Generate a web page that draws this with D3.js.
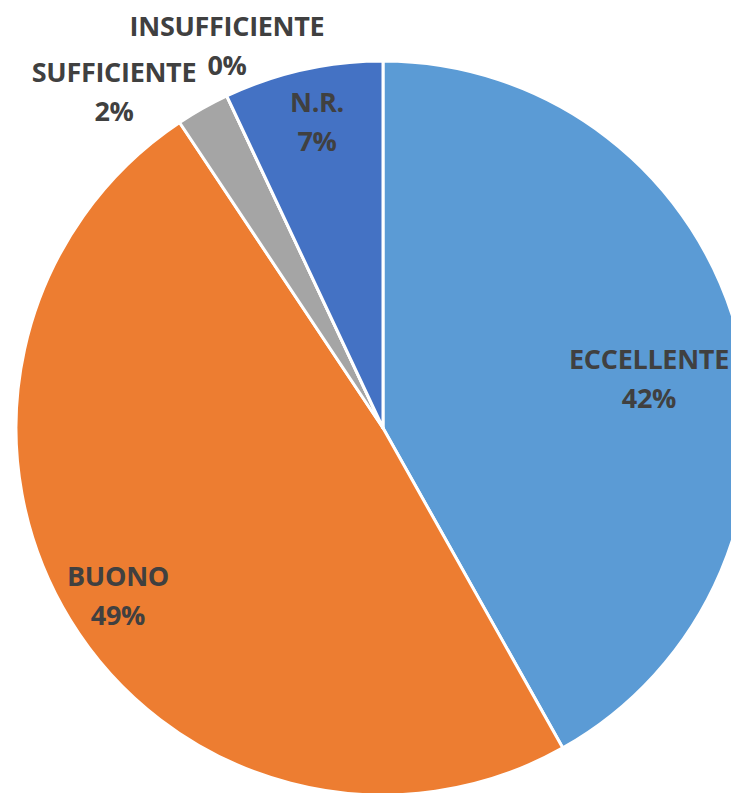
<!DOCTYPE html>
<html>
<head>
<meta charset="utf-8">
<script src="https://cdn.jsdelivr.net/npm/d3@7"></script>
<style>
  html, body { margin: 0; padding: 0; background: #fff; }
  svg { display: block; }
</style>
</head>
<body>
<script>
// Data
const categories = ["ECCELLENTE", "BUONO", "SUFFICIENTE", "INSUFFICIENTE", "N.R."];
const values = [41.85, 48.8, 2.35, 0.0, 7.0];
const percentLabels = ["42%", "49%", "2%", "0%", "7%"];
const colors = ["#5B9BD5", "#ED7D31", "#A5A5A5", "#FFC000", "#4472C4"];

// Layout (label anchor positions relative to the pie centre, first-line baseline)
const labelOffsets = [
  [266, -59],   // ECCELLENTE
  [-265, 158],  // BUONO
  [-269, -346], // SUFFICIENTE
  [-156, -392], // INSUFFICIENTE
  [-66, -316]   // N.R.
];

const W = 731, H = 793;
const cx = 383, cy = 428, R = 367;

const svg = d3.select("body").append("svg").attr("width", W).attr("height", H);
const g = svg.append("g").attr("transform", `translate(${cx},${cy})`);

const data = categories.map((c, i) => ({ cat: c, value: values[i], pct: percentLabels[i], color: colors[i], off: labelOffsets[i] }));

const pie = d3.pie().value(d => d.value).sort(null).startAngle(0).endAngle(2 * Math.PI);
const arc = d3.arc().innerRadius(0).outerRadius(R);

const arcs = pie(data);

g.selectAll("path.slice")
  .data(arcs)
  .join("path")
  .attr("class", "slice")
  .attr("d", arc)
  .attr("fill", d => d.data.color)
  .attr("stroke", "#ffffff")
  .attr("stroke-width", 3)
  .attr("stroke-linejoin", "round");

const labels = g.selectAll("text.lbl")
  .data(arcs)
  .join("text")
  .attr("class", "lbl")
  .attr("text-anchor", "middle")
  .attr("font-family", "'Open Sans', sans-serif")
  .attr("font-weight", 700)
  .attr("font-size", 27)
  .attr("letter-spacing", "-0.3px")
  .attr("fill", "#404040");

labels.append("tspan")
  .attr("x", d => d.data.off[0])
  .attr("y", d => d.data.off[1])
  .text(d => d.data.cat);
labels.append("tspan")
  .attr("x", d => d.data.off[0])
  .attr("y", d => d.data.off[1] + 39)
  .text(d => d.data.pct);
</script>
</body>
</html>
